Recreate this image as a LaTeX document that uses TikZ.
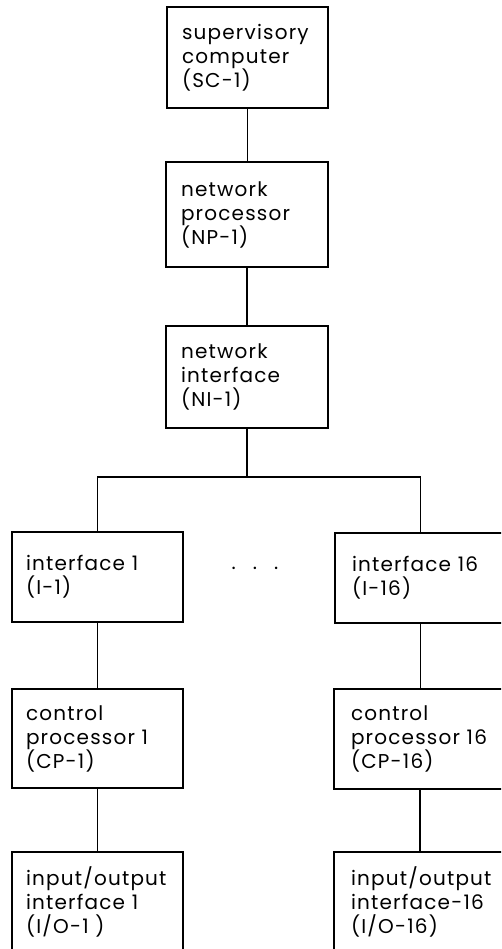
\documentclass[tikz,border=0pt]{standalone}
\usepackage{fontspec}
\setmainfont{Poppins}[LetterSpace=6]
\newcommand\boxfont{\fontsize{20}{24}\selectfont}
\begin{document}
\begin{tikzpicture}[x=1pt,y=-1pt,
  box/.style n args={3}{draw, line width=1.4pt, inner sep=0pt,
    minimum width=#1, text width=#2, minimum height=#3,
    align=left, font=\boxfont},
  conn/.style={line width=1.5pt}]
\useasboundingbox (0,0) rectangle (501,949);
\clip (0,0) rectangle (501,949);
% central column
\node[box={161pt}{131pt}{101pt}] (sc) at (247.5,57.5) {supervisory\\computer\\(SC-1)};
\node[box={162pt}{132pt}{105pt}] (np) at (247,214.5) {network\\processor\\(NP-1)};
\node[box={162pt}{132pt}{102pt}] (ni) at (247,377) {network\\interface\\(NI-1)};
% left column
\node[box={171pt}{143pt}{90pt}] (i1) at (97.5,577) {interface 1\\(I-1)};
\node[box={171pt}{143pt}{99pt}] (cp1) at (97.5,738.5) {control\\processor 1\\(CP-1)};
\node[box={171pt}{143pt}{100pt}] (io1) at (97.5,902) {input/output\\interface 1\\(I/O-1 )};
% right column
\node[box={171pt}{137pt}{90pt}] (i16) at (420.5,578) {interface 16\\(I-16)};
\node[box={172pt}{138pt}{100pt}] (cp16) at (420,739) {control\\processor 16\\(CP-16)};
\node[box={172pt}{138pt}{100pt}] (io16) at (420,902) {input/output\\interface-16\\(I/O-16)};
% dots
\node[font=\boxfont, inner sep=0pt] (dots) at (255,568) {.\hspace{17pt}.\hspace{17pt}.};
% connectors
\coordinate (bus) at (248,477);
\draw[conn] (sc.south) -- (sc.south |- np.north);
\draw[conn] (np.south) -- (np.south |- ni.north);
\draw[conn] (ni.south) -- (ni.south |- bus);
\draw[conn] (i1.north) |- (bus) -| (i16.north);
\draw[conn] (i1.south) -- (cp1.north);
\draw[conn] (cp1.south) -- (io1.north);
\draw[conn] (i16.south) -- (i16.south |- cp16.north);
\draw[conn] (cp16.south) -- (io16.north);
\end{tikzpicture}
\end{document}
